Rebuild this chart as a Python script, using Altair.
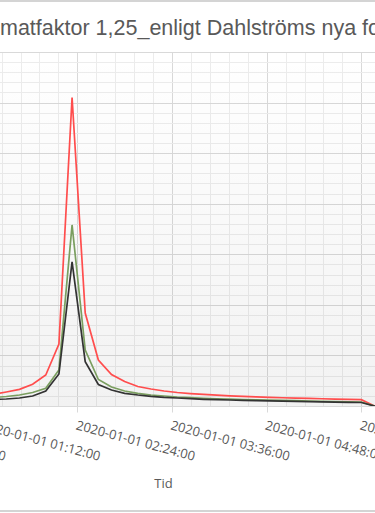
import altair as alt
import pandas as pd
from datetime import datetime

# ---------------- data ----------------
times = [
    "2020-01-01T01:20:00", "2020-01-01T01:30:00", "2020-01-01T01:40:00", "2020-01-01T01:50:00",
    "2020-01-01T02:00:00", "2020-01-01T02:10:00", "2020-01-01T02:20:00", "2020-01-01T02:30:00",
    "2020-01-01T02:40:00", "2020-01-01T02:50:00", "2020-01-01T03:00:00", "2020-01-01T03:10:00",
    "2020-01-01T03:20:00", "2020-01-01T03:30:00", "2020-01-01T03:40:00", "2020-01-01T03:50:00",
    "2020-01-01T04:00:00", "2020-01-01T04:10:00", "2020-01-01T04:20:00", "2020-01-01T04:30:00",
    "2020-01-01T04:40:00", "2020-01-01T04:50:00", "2020-01-01T05:00:00", "2020-01-01T05:10:00",
    "2020-01-01T05:20:00", "2020-01-01T05:30:00", "2020-01-01T05:40:00", "2020-01-01T05:50:00",
    "2020-01-01T06:00:00", "2020-01-01T06:10:00", "2020-01-01T06:20:00",
]
red = [2.27, 2.77, 3.30, 4.29, 6.13, 12.26, 61.0, 18.39, 9.10, 6.23,
       4.84, 3.86, 3.36, 2.97, 2.67, 2.45, 2.28, 2.14, 2.01, 1.90,
       1.80, 1.71, 1.63, 1.56, 1.49, 1.43, 1.37, 1.31, 1.25, 0.0, 0.0]
green = [1.68, 1.88, 2.18, 2.67, 3.50, 7.12, 35.8, 11.07, 5.24, 3.76,
         2.97, 2.51, 2.18, 1.98, 1.78, 1.64, 1.52, 1.42, 1.34, 1.29,
         1.23, 1.17, 1.11, 1.05, 0.99, 0.93, 0.89, 0.83, 0.79, 0.0, 0.0]
black = [1.29, 1.38, 1.58, 1.98, 2.97, 6.33, 28.5, 8.76, 4.25, 3.16,
         2.51, 2.18, 1.92, 1.72, 1.58, 1.44, 1.32, 1.25, 1.19, 1.13,
         1.07, 1.01, 0.97, 0.91, 0.87, 0.83, 0.77, 0.73, 0.69, 0.0, 0.0]

series_names = ["Serie röd", "Serie grön", "Serie svart"]
series_colors = ["#ff4d4d", "#7a9e5f", "#333333"]

x_major_ticks = ["2020-01-01T00:00:00", "2020-01-01T01:12:00", "2020-01-01T02:24:00",
                 "2020-01-01T03:36:00", "2020-01-01T04:48:00", "2020-01-01T06:00:00"]
x_minor_ticks = ["2020-01-01T01:26:24", "2020-01-01T01:40:48", "2020-01-01T01:55:12", "2020-01-01T02:09:36",
                 "2020-01-01T02:38:24", "2020-01-01T02:52:48", "2020-01-01T03:07:12", "2020-01-01T03:21:36",
                 "2020-01-01T03:50:24", "2020-01-01T04:04:48", "2020-01-01T04:19:12", "2020-01-01T04:33:36",
                 "2020-01-01T05:02:24", "2020-01-01T05:16:48", "2020-01-01T05:31:12", "2020-01-01T05:45:36"]
y_major_ticks = [0, 10, 20, 30, 40, 50, 60, 70]
y_minor_ticks = [2, 4, 6, 8, 12, 14, 16, 18, 22, 24, 26, 28, 32, 34, 36, 38,
                 42, 44, 46, 48, 52, 54, 56, 58, 62, 64, 66, 68]
x_domain = ["2020-01-01T00:00:00", "2020-01-01T06:10:24"]

title_text = ["matfaktor 1,25_enligt Dahlströms nya fo"]
x_title = "Tid"

# ---------------- helpers ----------------
def dt(s):
    d = datetime.fromisoformat(s)
    return alt.DateTime(year=d.year, month=d.month, date=d.day,
                        hours=d.hour, minutes=d.minute, seconds=d.second)

rows = []
for name, vals in zip(series_names, [red, green, black]):
    for t, v in zip(times, vals):
        rows.append({"Tid": t, "Värde": v, "Serie": name})
df = pd.DataFrame(rows)

W, H = 487, 354
GRID_MAJOR = "#d9d9d9"
GRID_MINOR = "#ececec"
TXT = "#595959"

xscale = alt.Scale(domain=[dt(x_domain[0]), dt(x_domain[1])], nice=False)
yscale = alt.Scale(domain=[0, 70], nice=False, zero=True)

base = alt.Chart(df)

minor = base.mark_line(strokeOpacity=0, clip=True).encode(
    x=alt.X("Tid:T", scale=xscale, axis=alt.Axis(
        orient="top", values=[dt(s) for s in x_minor_ticks], labels=False, ticks=False,
        domain=False, grid=True, gridColor=GRID_MINOR, gridWidth=1, title=None)),
    y=alt.Y("Värde:Q", scale=yscale, axis=alt.Axis(
        orient="right", values=y_minor_ticks, labels=False, ticks=False,
        domain=False, grid=True, gridColor=GRID_MINOR, gridWidth=1, title=None)),
    detail="Serie:N",
)

lines = base.mark_line(clip=True, strokeWidth=1.7).encode(
    x=alt.X("Tid:T", scale=xscale, axis=alt.Axis(
        orient="bottom", values=[dt(s) for s in x_major_ticks],
        format="%Y-%m-%d %H:%M:%S", labelAngle=15, labelAlign="left", labelBaseline="top",
        labelPadding=7, labelOverlap=False, labelFlush=False, labelBound=False,
        labelFont="Open Sans", labelFontSize=13, labelColor=TXT,
        tickSize=6, tickColor=GRID_MAJOR, domain=False,
        grid=True, gridColor=GRID_MAJOR, gridWidth=1,
        title=x_title, titleFont="Open Sans", titleFontSize=13, titleFontWeight="normal",
        titleColor=TXT, titleX=275, titleY=77, titleAlign="center", titleBaseline="middle")),
    y=alt.Y("Värde:Q", scale=yscale, axis=alt.Axis(
        orient="left", values=y_major_ticks, labels=False, ticks=False, domain=False,
        grid=True, gridColor=GRID_MAJOR, gridWidth=1, title=None)),
    color=alt.Color("Serie:N", scale=alt.Scale(domain=series_names, range=series_colors), legend=None),
    order=alt.Order("Tid:T"),
)

bg = alt.Chart(pd.DataFrame({"k": [0]})).mark_rect(
    color=alt.LinearGradient(
        gradient="linear",
        stops=[alt.GradientStop(offset=0, color="rgba(0,0,0,0)"),
               alt.GradientStop(offset=1, color="rgba(0,0,0,0.05)")],
        x1=0, x2=0, y1=0, y2=1)
).encode(x=alt.value(0), x2=alt.value(W), y=alt.value(0), y2=alt.value(H))

top_border = alt.Chart(pd.DataFrame({"k": [0]})).mark_rule(color="#d4d4d4", strokeWidth=2).encode(
    x=alt.value(112), x2=alt.value(W), y=alt.value(-51))
bottom_border = alt.Chart(pd.DataFrame({"k": [0]})).mark_rule(color="#d4d4d4", strokeWidth=2).encode(
    x=alt.value(112), x2=alt.value(W), y=alt.value(459))

title = alt.Chart(pd.DataFrame({"t": title_text})).mark_text(
    align="left", baseline="alphabetic", font="Liberation Sans", fontSize=21.5,
    fontWeight="normal", color=TXT
).encode(text="t:N", x=alt.value(112), y=alt.value(-17))

chart = alt.layer(bg, minor, lines, top_border, bottom_border, title).resolve_axis(
    x="independent", y="independent"
).properties(
    width=W, height=H,
    autosize=alt.AutoSizeParams(type="none"),
    padding={"left": -112, "top": 52, "right": 0, "bottom": 107},
    background="white",
).configure_view(stroke=None)

chart.save("out.html", embed_options={"renderer": "svg", "actions": False})
